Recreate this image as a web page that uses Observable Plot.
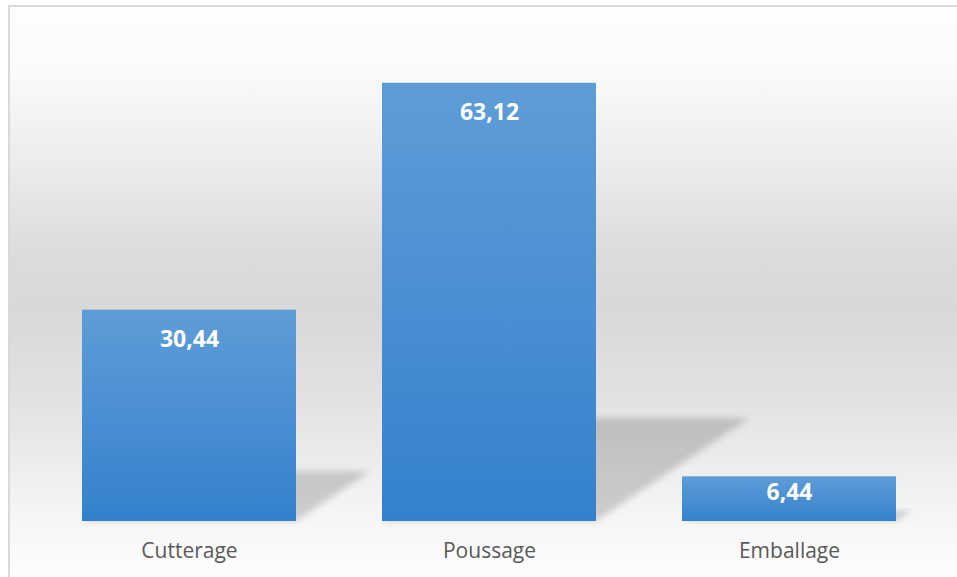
<!DOCTYPE html>
<html>
<head>
<meta charset="utf-8">
<script src="https://cdn.jsdelivr.net/npm/d3@7"></script>
<script src="https://cdn.jsdelivr.net/npm/@observablehq/plot@0.6"></script>
<style>
  html, body { margin: 0; padding: 0; background: #ffffff; }
  #wrap { position: relative; width: 957px; height: 577px; overflow: hidden; background: #ffffff; }
  #frame {
    position: absolute; left: 8px; top: 5px; width: 960px; height: 580px;
    border-left: 2px solid #d9d9d9; border-top: 2px solid #d9d9d9;
    background: linear-gradient(to bottom, #fdfdfd 0%, #fbfbfb 10%, #ececec 27%, #dcdcdc 42%, #d8d8d8 52%, #e2e2e2 68%, #f2f2f2 84%, #fbfbfb 95%, #fdfdfd 100%);
  }
  #chart { position: absolute; left: 0; top: 0; }
</style>
</head>
<body>
<div id="wrap"><div id="frame"></div><div id="chart"></div></div>
<script>
const categories = ["Cutterage", "Poussage", "Emballage"];
const values = [30.44, 63.12, 6.44];

const data = categories.map((c, i) => ({cat: c, v: values[i]}));
const fmt = v => v.toFixed(2).replace(".", ",");

function shadowRender(index, scales, vals, dimensions, context) {
  const x = scales.x, y = scales.y;
  const bw = x.bandwidth();
  const g = d3.create("svg:g");
  const defs = g.append("defs");
  defs.append("filter").attr("id", "shBlur").attr("x", "-20%").attr("y", "-20%").attr("width", "140%").attr("height", "140%")
    .append("feGaussianBlur").attr("stdDeviation", 3.2);
  for (const i of index) {
    const d = data[i];
    const x0 = x(d.cat), x1 = x0 + bw;
    const yb = y(0), yt = y(d.v);
    const h = yb - yt;
    const dx = 0.35 * h, dy = 0.235 * h;
    const pts = [[x0, yb], [x1, yb], [x1 + dx, yb - dy], [x0 + dx, yb - dy]];
    g.append("path")
      .attr("d", "M" + pts.map(p => p.join(",")).join("L") + "Z")
      .attr("fill", "#000")
      .attr("fill-opacity", 0.17)
      .attr("filter", "url(#shBlur)");
  }
  return g.node();
}

// place value labels "inside end": a fixed padding below the bar top, or nearer the top for short bars
function labelRender(index, scales, vals, dimensions, context, next) {
  const y = scales.y;
  const yb = y(0);
  const Y = Array.from(vals.y, v => v);
  for (const i of index) {
    const yt = y(data[i].v);
    Y[i] = Math.min(yt + 29, yt + (yb - yt) * 0.36);
  }
  return next(index, scales, {...vals, y: Y}, dimensions, context);
}

const plot = Plot.plot({
  width: 957,
  height: 577,
  marginLeft: 38.6,
  marginRight: 17.4,
  marginTop: 35,
  marginBottom: 56,
  style: {background: "transparent", fontFamily: "'Open Sans', sans-serif", overflow: "visible"},
  x: {domain: categories, paddingInner: 0.288, paddingOuter: 0.144, label: null},
  y: {domain: [0, 70], axis: null},
  marks: [
    Plot.barY(data, {x: "cat", y: "v", render: shadowRender}),
    Plot.barY(data, {x: "cat", y: "v", fill: "url(#barGrad)"}),
    Plot.text(data, {x: "cat", y: "v", text: d => fmt(d.v), fill: "#ffffff", fontSize: 23, fontWeight: "bold", lineAnchor: "middle", render: labelRender}),
    Plot.axisX({tickSize: 0, tickPadding: 22, fontSize: 21, color: "#595959", label: null})
  ]
});

const svg = d3.select(plot);
const defs = svg.insert("defs", ":first-child");
const lg = defs.append("linearGradient").attr("id", "barGrad").attr("x1", 0).attr("y1", 0).attr("x2", 0).attr("y2", 1);
lg.append("stop").attr("offset", "0%").attr("stop-color", "#5d9dd7");
lg.append("stop").attr("offset", "50%").attr("stop-color", "#4a8fd2");
lg.append("stop").attr("offset", "100%").attr("stop-color", "#3381cc");
svg.selectAll("g[aria-label='x-axis tick label'] text, g[aria-label='x-axis tick label']").attr("fill", "#595959");

document.getElementById("chart").appendChild(plot);
</script>
</body>
</html>
